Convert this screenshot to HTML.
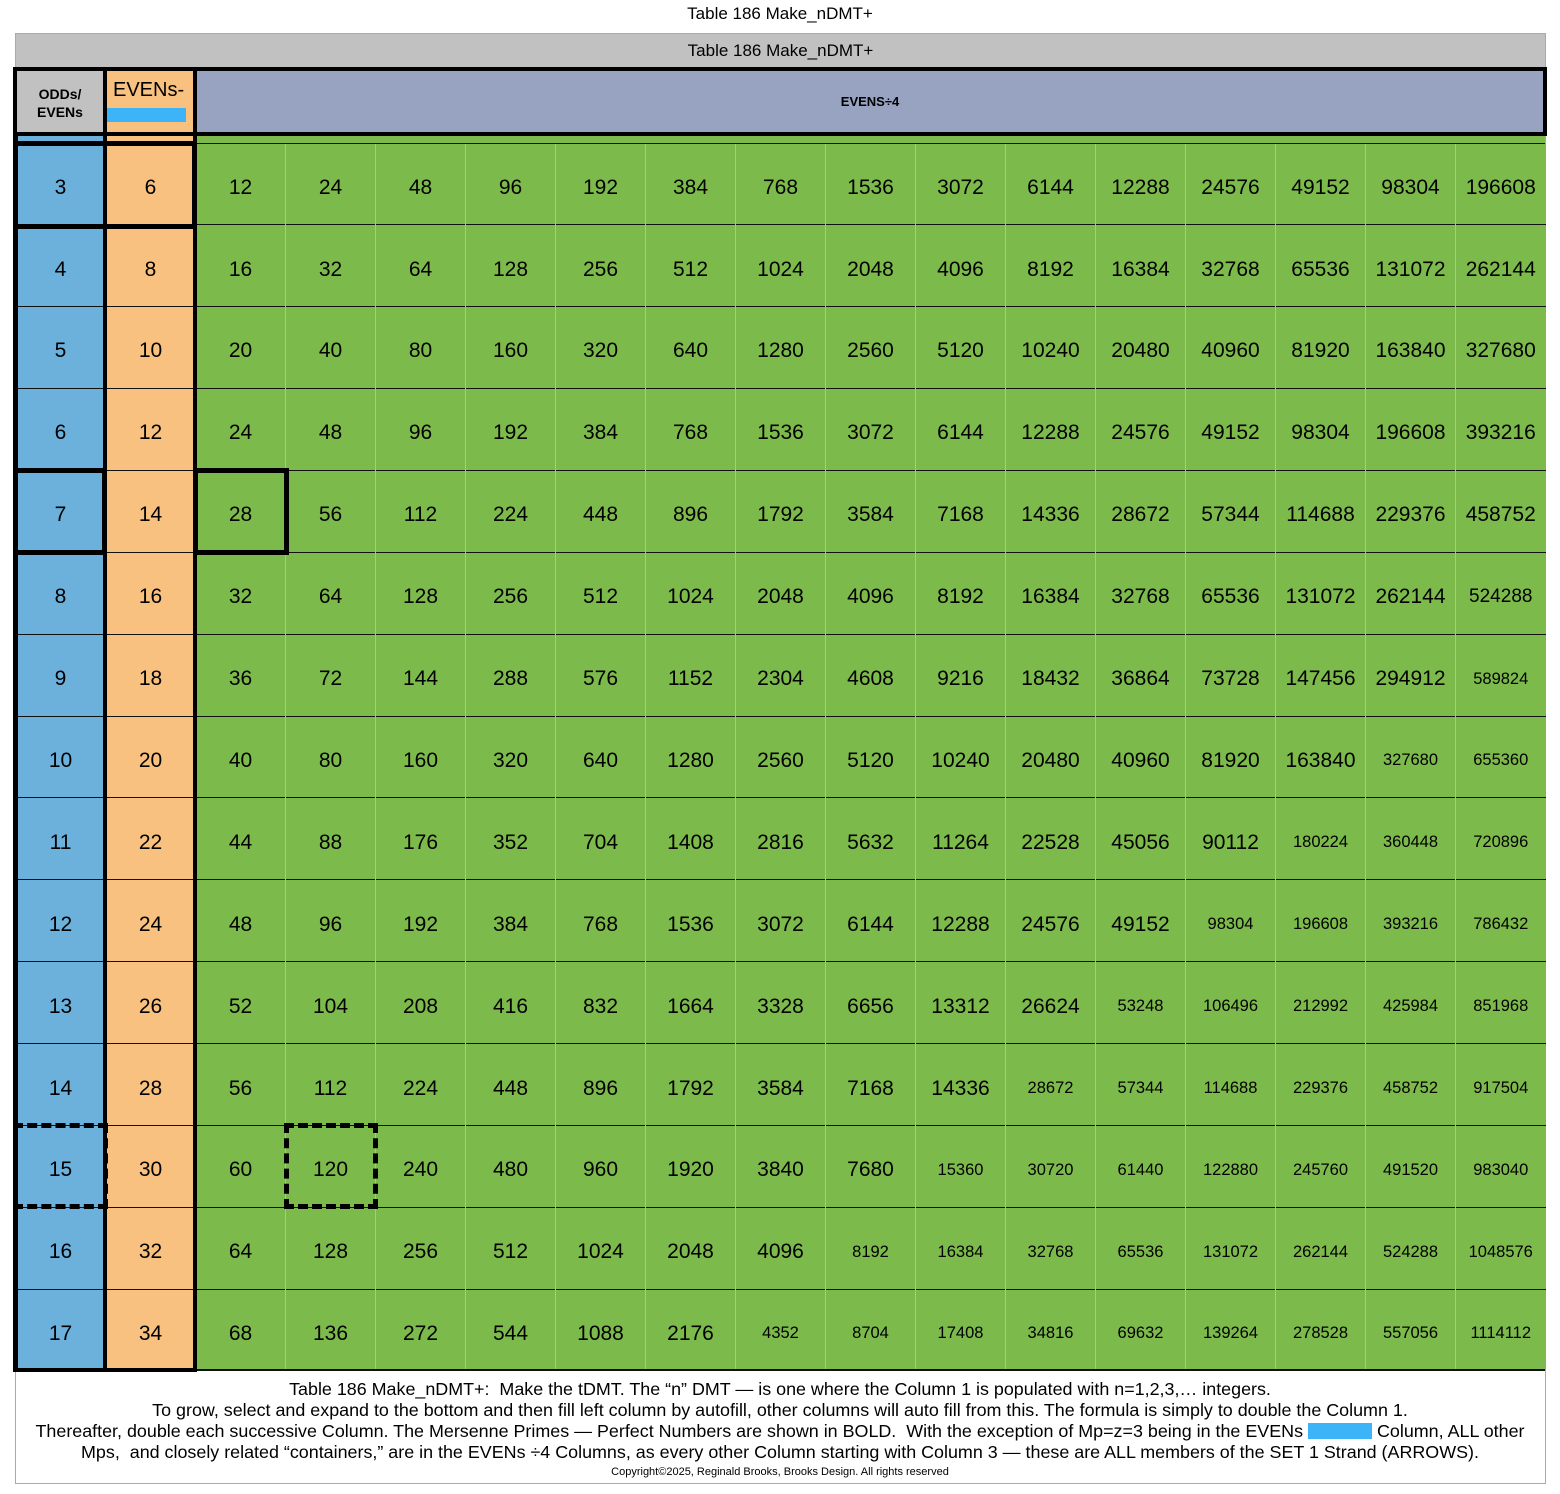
<!DOCTYPE html>
<html><head><meta charset="utf-8"><style>
*{margin:0;padding:0;box-sizing:border-box}
body{width:1560px;height:1494px;background:#fff;font-family:"Liberation Sans",Arial,sans-serif;position:relative;overflow:hidden;color:#000}
.a{position:absolute}
table{position:absolute;left:15px;top:144px;width:1530px;height:1226px;border-collapse:collapse;table-layout:fixed}
td{width:90px;text-align:center;vertical-align:middle;font-size:21px;background:#7dba4c;border-left:1px solid #a9c59a;border-top:1px solid #111;padding:8px 0 0 0}
td.b{background:#6cb0dc}
td.o{background:#f9c17f}
td.s{font-size:16.5px}
tr:first-child td{border-top:none}
.cap{position:absolute;left:15px;width:1530px;text-align:center;font-size:17.9px;white-space:nowrap}
</style></head><body>
<div class="a" style="left:0;top:4px;width:1560px;text-align:center;font-size:17px">Table 186 Make_nDMT+</div>
<div class="a" style="left:15px;top:33px;width:1531px;height:1451px;border:1px solid #aaa"></div>
<div class="a" style="left:16px;top:34px;width:1529px;height:34px;background:#c0c1c0;text-align:center;font-size:17px;line-height:34px">Table 186 Make_nDMT+</div>
<div class="a" style="left:15px;top:68px;width:90px;height:66px;background:#c0c1c0;text-align:center;font-size:14px;font-weight:bold;padding-top:17px;line-height:18px">ODDs/<br>EVENs</div>
<div class="a" style="left:105px;top:68px;width:90px;height:66px;background:#f9c17f;font-size:20px;padding:11px 0 0 8px">EVENs-</div>
<div class="a" style="left:103px;top:108px;width:83px;height:14px;background:#3db3f8"></div>
<div class="a" style="left:195px;top:68px;width:1350px;height:66px;background:#97a3c1;text-align:center;font-size:13px;font-weight:bold;line-height:68px">EVENS÷4</div>
<div class="a" style="left:13px;top:67px;width:1534px;height:69px;border:4px solid #000"></div>
<div class="a" style="left:103px;top:67px;width:4px;height:69px;background:#000"></div>
<div class="a" style="left:193px;top:67px;width:4px;height:69px;background:#000"></div>
<div class="a" style="left:15px;top:136px;width:90px;height:8px;background:#6cb0dc"></div>
<div class="a" style="left:105px;top:136px;width:90px;height:8px;background:#f9c17f"></div>
<div class="a" style="left:195px;top:136px;width:1350px;height:8px;background:#7dba4c;border-bottom:1px solid #111"></div>
<table>
<tr><td class="b">3</td><td class="o">6</td><td>12</td><td>24</td><td>48</td><td>96</td><td>192</td><td>384</td><td>768</td><td>1536</td><td>3072</td><td>6144</td><td>12288</td><td>24576</td><td>49152</td><td>98304</td><td>196608</td></tr>
<tr><td class="b">4</td><td class="o">8</td><td>16</td><td>32</td><td>64</td><td>128</td><td>256</td><td>512</td><td>1024</td><td>2048</td><td>4096</td><td>8192</td><td>16384</td><td>32768</td><td>65536</td><td>131072</td><td>262144</td></tr>
<tr><td class="b">5</td><td class="o">10</td><td>20</td><td>40</td><td>80</td><td>160</td><td>320</td><td>640</td><td>1280</td><td>2560</td><td>5120</td><td>10240</td><td>20480</td><td>40960</td><td>81920</td><td>163840</td><td>327680</td></tr>
<tr><td class="b">6</td><td class="o">12</td><td>24</td><td>48</td><td>96</td><td>192</td><td>384</td><td>768</td><td>1536</td><td>3072</td><td>6144</td><td>12288</td><td>24576</td><td>49152</td><td>98304</td><td>196608</td><td>393216</td></tr>
<tr><td class="b">7</td><td class="o">14</td><td>28</td><td>56</td><td>112</td><td>224</td><td>448</td><td>896</td><td>1792</td><td>3584</td><td>7168</td><td>14336</td><td>28672</td><td>57344</td><td>114688</td><td>229376</td><td>458752</td></tr>
<tr><td class="b">8</td><td class="o">16</td><td>32</td><td>64</td><td>128</td><td>256</td><td>512</td><td>1024</td><td>2048</td><td>4096</td><td>8192</td><td>16384</td><td>32768</td><td>65536</td><td>131072</td><td>262144</td><td class="s" style="font-size:19px">524288</td></tr>
<tr><td class="b">9</td><td class="o">18</td><td>36</td><td>72</td><td>144</td><td>288</td><td>576</td><td>1152</td><td>2304</td><td>4608</td><td>9216</td><td>18432</td><td>36864</td><td>73728</td><td>147456</td><td>294912</td><td class="s">589824</td></tr>
<tr><td class="b">10</td><td class="o">20</td><td>40</td><td>80</td><td>160</td><td>320</td><td>640</td><td>1280</td><td>2560</td><td>5120</td><td>10240</td><td>20480</td><td>40960</td><td>81920</td><td>163840</td><td class="s">327680</td><td class="s">655360</td></tr>
<tr><td class="b">11</td><td class="o">22</td><td>44</td><td>88</td><td>176</td><td>352</td><td>704</td><td>1408</td><td>2816</td><td>5632</td><td>11264</td><td>22528</td><td>45056</td><td>90112</td><td class="s">180224</td><td class="s">360448</td><td class="s">720896</td></tr>
<tr><td class="b">12</td><td class="o">24</td><td>48</td><td>96</td><td>192</td><td>384</td><td>768</td><td>1536</td><td>3072</td><td>6144</td><td>12288</td><td>24576</td><td>49152</td><td class="s">98304</td><td class="s">196608</td><td class="s">393216</td><td class="s">786432</td></tr>
<tr><td class="b">13</td><td class="o">26</td><td>52</td><td>104</td><td>208</td><td>416</td><td>832</td><td>1664</td><td>3328</td><td>6656</td><td>13312</td><td>26624</td><td class="s">53248</td><td class="s">106496</td><td class="s">212992</td><td class="s">425984</td><td class="s">851968</td></tr>
<tr><td class="b">14</td><td class="o">28</td><td>56</td><td>112</td><td>224</td><td>448</td><td>896</td><td>1792</td><td>3584</td><td>7168</td><td>14336</td><td class="s">28672</td><td class="s">57344</td><td class="s">114688</td><td class="s">229376</td><td class="s">458752</td><td class="s">917504</td></tr>
<tr><td class="b">15</td><td class="o">30</td><td>60</td><td>120</td><td>240</td><td>480</td><td>960</td><td>1920</td><td>3840</td><td>7680</td><td class="s">15360</td><td class="s">30720</td><td class="s">61440</td><td class="s">122880</td><td class="s">245760</td><td class="s">491520</td><td class="s">983040</td></tr>
<tr><td class="b">16</td><td class="o">32</td><td>64</td><td>128</td><td>256</td><td>512</td><td>1024</td><td>2048</td><td>4096</td><td class="s">8192</td><td class="s">16384</td><td class="s">32768</td><td class="s">65536</td><td class="s">131072</td><td class="s">262144</td><td class="s">524288</td><td class="s">1048576</td></tr>
<tr><td class="b">17</td><td class="o">34</td><td>68</td><td>136</td><td>272</td><td>544</td><td>1088</td><td>2176</td><td class="s">4352</td><td class="s">8704</td><td class="s">17408</td><td class="s">34816</td><td class="s">69632</td><td class="s">139264</td><td class="s">278528</td><td class="s">557056</td><td class="s">1114112</td></tr>
</table>
<div class="a" style="left:13px;top:136px;width:5px;height:1236px;background:#000"></div>
<div class="a" style="left:103px;top:136px;width:4px;height:1236px;background:#000"></div>
<div class="a" style="left:193px;top:136px;width:4px;height:1236px;background:#000"></div>
<div class="a" style="left:13px;top:1368px;width:184px;height:4px;background:#000"></div>
<div class="a" style="left:197px;top:1369px;width:1348px;height:2px;background:#111"></div>
<div class="a" style="left:13px;top:141px;width:184px;height:88px;border:5px solid #000"></div>
<div class="a" style="left:13px;top:468px;width:94px;height:87px;border:5px solid #000"></div>
<div class="a" style="left:193px;top:468px;width:96px;height:87px;border:5px solid #000"></div>
<div class="a" style="left:13px;top:1123px;width:95px;height:86px;border:5px dashed #000;background:transparent"></div>
<div class="a" style="left:284px;top:1123px;width:94px;height:86px;border:5px dashed #000"></div>
<div class="cap" style="top:1379px">Table 186 Make_nDMT+:&nbsp; Make the tDMT. The “n” DMT — is one where the Column 1 is populated with n=1,2,3,… integers.</div>
<div class="cap" style="top:1400px">To grow, select and expand to the bottom and then fill left column by autofill, other columns will auto fill from this. The formula is simply to double the Column 1.</div>
<div class="cap" style="top:1421px">Thereafter, double each successive Column. The Mersenne Primes — Perfect Numbers are shown in BOLD.&nbsp; With the exception of Mp=z=3 being in the EVENs <span style="display:inline-block;width:64px;height:16px;background:#3db3f8;vertical-align:-2px"></span> Column, ALL other</div>
<div class="cap" style="top:1442px">Mps,&nbsp; and closely related “containers,” are in the EVENs ÷4 Columns, as every other Column starting with Column 3 — these are ALL members of the SET 1 Strand (ARROWS).</div>
<div class="cap" style="top:1466px;font-size:11px">Copyright©2025, Reginald Brooks, Brooks Design. All rights reserved</div>
</body></html>
